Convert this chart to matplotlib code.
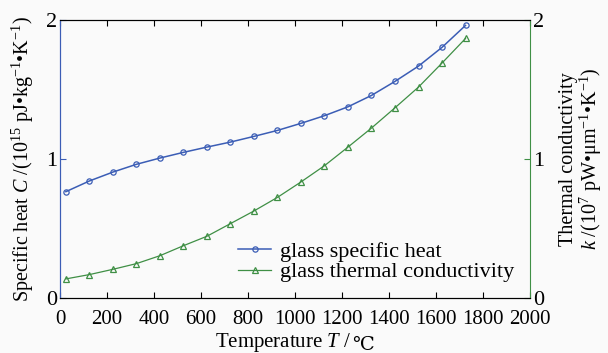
import matplotlib
matplotlib.use("Agg")
import matplotlib.pyplot as plt

plt.rcParams["font.family"] = ["Liberation Serif", "DejaVu Serif", "DejaVu Sans"]
plt.rcParams["mathtext.fontset"] = "custom"
plt.rcParams["mathtext.rm"] = "Liberation Serif"
plt.rcParams["mathtext.it"] = "Liberation Serif:italic"
plt.rcParams["mathtext.fallback"] = "stix"

temperature = [25, 125, 225, 325, 425, 525, 625, 725, 825, 925,
               1025, 1125, 1225, 1325, 1425, 1525, 1625, 1725]
specific_heat = [0.765, 0.842, 0.906, 0.962, 1.007, 1.048, 1.086, 1.122, 1.163,
                 1.206, 1.257, 1.312, 1.376, 1.458, 1.559, 1.669, 1.804, 1.962]
thermal_cond = [0.137, 0.168, 0.206, 0.247, 0.304, 0.376, 0.444, 0.535, 0.626,
                0.724, 0.835, 0.952, 1.086, 1.223, 1.369, 1.518, 1.691, 1.868]

blue = "#3b5db5"
green = "#3f8f45"
bg = "#fafafa"

fig = plt.figure(figsize=(6.08, 3.53), dpi=100, facecolor=bg)
ax = fig.add_axes([0.0987, 0.156, 0.7733, 0.787])
ax.set_facecolor(bg)
ax2 = ax.twinx()

l1, = ax.plot(temperature, specific_heat, color=blue, lw=1.1, marker="o",
              ms=3.8, mfc="none", mew=0.9, label="glass specific heat")
l2, = ax2.plot(temperature, thermal_cond, color=green, lw=0.9, marker="^",
               ms=3.8, mfc="none", mew=0.9, label="glass thermal conductivity")

ax.set_xlim(0, 2000)
ax.set_ylim(0, 2)
ax2.set_ylim(0, 2)
ax.set_xticks(range(0, 2001, 200))
ax.set_yticks([0, 1, 2])
ax2.set_yticks([0, 1, 2])

ax.tick_params(axis="x", direction="in", top=True, length=4, labelsize=15, pad=9)
ax.tick_params(axis="y", direction="in", length=4, color=blue, labelsize=16, pad=2)
ax2.tick_params(axis="y", direction="in", length=4, color=green, labelsize=16, pad=2)

ax.spines["left"].set_color(blue)
ax2.spines["left"].set_color(blue)
ax2.spines["right"].set_color(green)
ax.spines["right"].set_visible(False)

# x label in two pieces: mathtext for the italic T, plain text (font list) for the Celsius sign
xlab = ax.text(0.474, -0.118, r"Temperature $T$ /", transform=ax.transAxes,
               ha="center", va="top", fontsize=15)
ax.annotate("℃", xy=(1, 0), xycoords=xlab, xytext=(1, 0), textcoords="offset points",
            ha="left", va="bottom", fontsize=14,
            family=["Liberation Serif", "DejaVu Serif", "DejaVu Sans"])

ax.set_ylabel(r"Specific heat $C$ /(10$^{15}$ pJ•kg$^{-1}$•K$^{-1}$)", fontsize=14.5, labelpad=7)
ax2.set_ylabel("Thermal conductivity\n" + r"$k$ /(10$^7$ pW•μm$^{-1}$•K$^{-1}$)",
               fontsize=14.5, labelpad=11, rotation=90, linespacing=0.95)

ax.legend(handles=[l1, l2], loc="lower right", bbox_to_anchor=(1.0, 0.0),
          frameon=False, fontsize=16, handlelength=1.5, handletextpad=0.4,
          labelspacing=0.0, borderaxespad=0.3)

fig.savefig("out.png", dpi=100, facecolor=bg)
